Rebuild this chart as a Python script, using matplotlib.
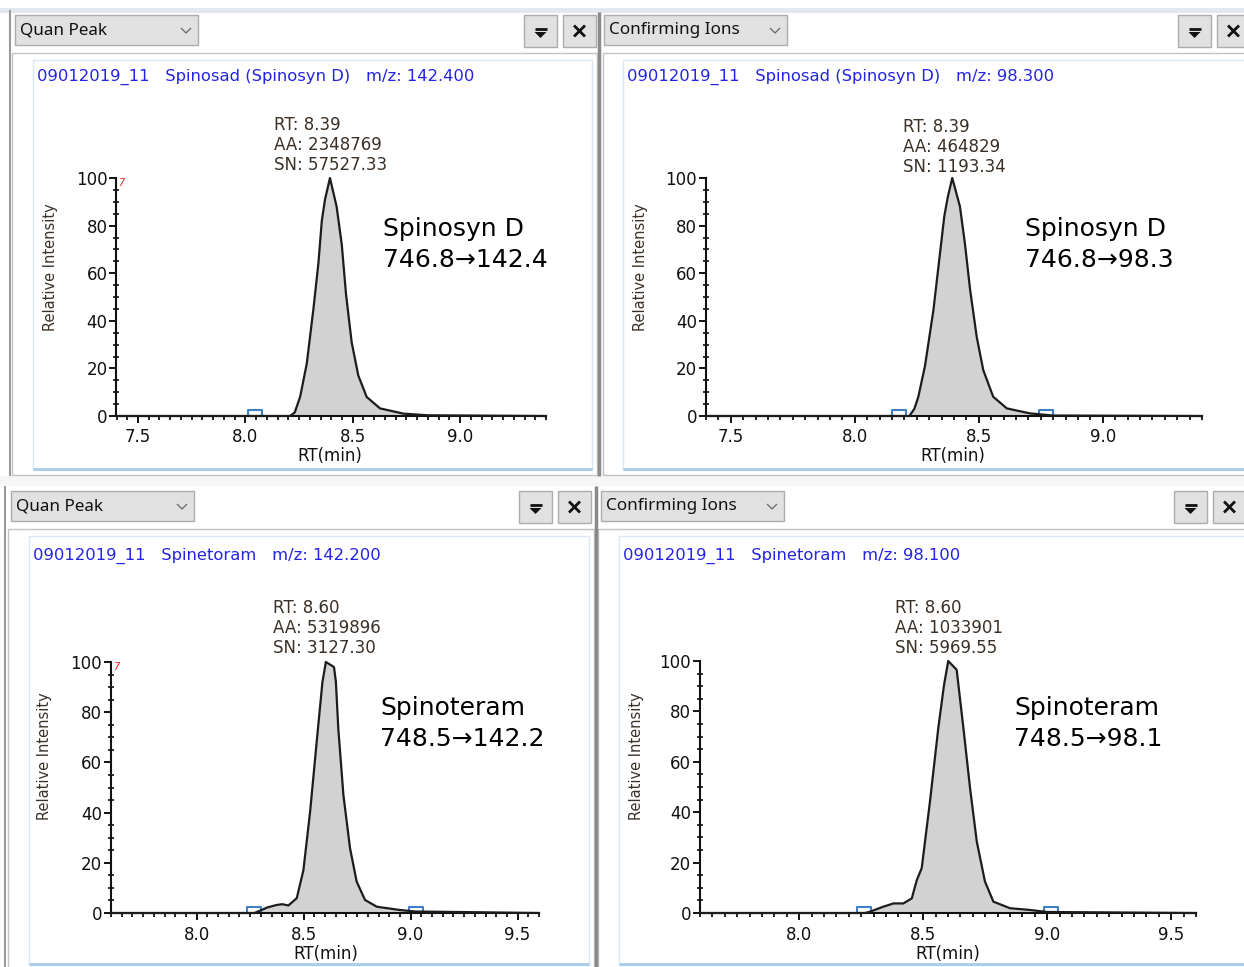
import matplotlib
matplotlib.use("Agg")
import matplotlib.pyplot as plt
import matplotlib.ticker as mticker
from matplotlib.patches import Rectangle, Polygon
from matplotlib.lines import Line2D
from matplotlib.path import Path
from matplotlib.transforms import Affine2D

W, H = 1244, 967

# ---- chromatogram traces (RT in min, relative intensity in %) ----
spd142_rt = [7.40, 8.208, 8.23, 8.255, 8.286, 8.317, 8.340, 8.356, 8.371, 8.394, 8.425,
             8.449, 8.469, 8.495, 8.526, 8.565, 8.627, 8.736, 8.85, 9.40]
spd142_int = [0, 0, 1.5, 8, 22, 45, 64, 82, 91, 100, 88, 72, 51, 31, 17, 8, 3.2, 1.0, 0.3, 0]

spd98_rt = [7.40, 8.22, 8.24, 8.256, 8.283, 8.317, 8.342, 8.361, 8.375, 8.393, 8.424,
            8.444, 8.465, 8.492, 8.518, 8.558, 8.613, 8.706, 8.80, 9.40]
spd98_int = [0, 0, 3, 8, 21, 44.5, 67, 84, 92, 100, 88, 72.5, 53, 33, 19.3, 8.1, 3.2, 1.1, 0.2, 0]

spt142_rt = [7.60, 8.27, 8.296, 8.33, 8.374, 8.40, 8.429, 8.468, 8.499, 8.530, 8.561, 8.588,
             8.604, 8.642, 8.651, 8.662, 8.686, 8.717, 8.748, 8.787, 8.842, 8.95, 9.02, 9.60]
spt142_int = [0, 0, 0.9, 2.2, 3.2, 3.5, 3.0, 5.9, 17, 40, 68, 92, 100, 98, 92, 73.6, 47,
              25.8, 12.5, 5.2, 2.5, 1.2, 0.6, 0]

spt98_rt = [7.60, 8.265, 8.285, 8.339, 8.38, 8.42, 8.454, 8.474, 8.494, 8.527, 8.561, 8.584,
            8.601, 8.635, 8.662, 8.689, 8.716, 8.749, 8.783, 8.85, 8.931, 9.0, 9.60]
spt98_int = [0, 0, 0.5, 2.5, 3.8, 3.8, 5.8, 13, 17.8, 44, 73.5, 90.5, 100, 96.5, 73.5, 49.5,
             28.4, 12.5, 4.5, 1.9, 1.2, 0.4, 0]

# integration boundaries (blue boxes on the baseline)
spd142_bounds = [8.045]
spd98_bounds = [8.18, 8.77]
spt142_bounds = [8.27, 9.025]
spt98_bounds = [8.26, 9.015]

views = ["Quan Peak", "Confirming Ions", "Quan Peak", "Confirming Ions"]
titles = ["09012019_11   Spinosad (Spinosyn D)   m/z: 142.400",
          "09012019_11   Spinosad (Spinosyn D)   m/z: 98.300",
          "09012019_11   Spinetoram   m/z: 142.200",
          "09012019_11   Spinetoram   m/z: 98.100"]
peak_rt = ["8.39", "8.39", "8.60", "8.60"]
peak_aa = ["2348769", "464829", "5319896", "1033901"]
peak_sn = ["57527.33", "1193.34", "3127.30", "5969.55"]
compounds = ["Spinosyn D", "Spinosyn D", "Spinoteram", "Spinoteram"]
transitions = ["746.8\u2192142.4", "746.8\u219298.3", "748.5\u2192142.2", "748.5\u219298.1"]
xlims = [(7.4, 9.4), (7.4, 9.4), (7.6, 9.6), (7.6, 9.6)]

traces = [(spd142_rt, spd142_int, spd142_bounds), (spd98_rt, spd98_int, spd98_bounds),
          (spt142_rt, spt142_int, spt142_bounds), (spt98_rt, spt98_int, spt98_bounds)]

# ---- screen layout in pixels ----
layout = [
    dict(dd=(15, 15), btn=524, body=(12, 53, 597, 475), inner=(33, 60, 592, 470),
         ax=(116.5, 546, 416, 178), title=(37, 77), ann=(274, 125), lab=(383, 229),
         ylab=(50, 267), xlab=(330, 456), red=True),
    dict(dd=(604, 15), btn=1178, body=(603, 53, 1250, 475), inner=(623, 60, 1250, 470),
         ax=(706, 1202, 416, 178), title=(627, 77), ann=(903, 127), lab=(1025, 229),
         ylab=(640, 267), xlab=(953, 456), red=False),
    dict(dd=(11, 491), btn=519, body=(8, 529, 594, 975), inner=(29, 536, 589, 965),
         ax=(111, 539, 913, 662), title=(33, 556), ann=(273, 608), lab=(380, 708),
         ylab=(45, 756), xlab=(326, 954), red=True),
    dict(dd=(601, 491), btn=1174, body=(598, 529, 1250, 975), inner=(619, 536, 1250, 965),
         ax=(700, 1196, 913, 661), title=(623, 556), ann=(895, 608), lab=(1014, 708),
         ylab=(636, 756), xlab=(948, 954), red=False),
]

plt.rcParams["font.family"] = "DejaVu Sans"

# open box sitting on the baseline (wider than tall)
bound_marker = Path([(-1, 0), (-1, 0.8), (1, 0.8), (1, 0)])

fig = plt.figure(figsize=(W / 100, H / 100), dpi=100)
fig.patch.set_facecolor("white")
pix = Affine2D().scale(1 / W, -1 / H).translate(0, 1) + fig.transFigure


def rect(x0, y0, x1, y1, fc="none", ec="none", lw=1.0):
    fig.add_artist(Rectangle((x0, y0), x1 - x0, y1 - y0, transform=pix,
                             facecolor=fc, edgecolor=ec, linewidth=lw, zorder=-10))


def line(xs, ys, color, lw=1.0):
    fig.add_artist(Line2D(xs, ys, transform=pix, color=color, linewidth=lw,
                          solid_capstyle="butt", zorder=-9))


def text(x, y, s, **kw):
    fig.text(x / W, 1 - y / H, s, **kw)


# window chrome
rect(0, 8, W, 13, fc="#e2e8f0")
line([10, 10], [10, 476], "#9a9a9a", 1.5)
line([5, 5], [486, H], "#9a9a9a", 1.5)
line([599, 599], [12, 476], "#8a8a8a", 2.5)
line([596, 596], [486, H], "#8a8a8a", 2.5)
rect(0, 476, W, 486, fc="#f4f6f8")

for i, lay in enumerate(layout):
    bx0, by0, bx1, by1 = lay["body"]
    rect(bx0, by0, bx1, by1, fc="white", ec="#c3c3c3")
    ix0, iy0, ix1, iy1 = lay["inner"]
    rect(ix0, iy0, ix1, iy1, fc="white", ec="#dbe7f3")
    line([ix0, ix1], [iy1 - 1, iy1 - 1], "#a8cce9", 2)

    # dropdown
    dx, dy = lay["dd"]
    rect(dx, dy, dx + 183, dy + 30, fc="#e1e1e1", ec="#adadad")
    text(dx + 5, dy + 15.5, views[i], family="Noto Sans", fontsize=12.3,
         color="#111111", va="center", ha="left")
    line([dx + 166, dx + 171, dx + 176], [dy + 13, dy + 18, dy + 13], "#666666", 0.9)

    # filter + close buttons
    b = lay["btn"]
    rect(b, dy, b + 33, dy + 32, fc="#e1e1e1", ec="#adadad")
    line([b + 10.5, b + 22.5], [dy + 13.5, dy + 13.5], "#111111", 2)
    fig.add_artist(Polygon([[b + 10.5, dy + 17], [b + 22.5, dy + 17], [b + 16.5, dy + 23]],
                           closed=True, transform=pix, facecolor="#111111",
                           edgecolor="none", zorder=-8))
    c = b + 39
    rect(c, dy, c + 33, dy + 32, fc="#e1e1e1", ec="#adadad")
    line([c + 11, c + 22], [dy + 10.5, dy + 21.5], "#111111", 2.0)
    line([c + 11, c + 22], [dy + 21.5, dy + 10.5], "#111111", 2.0)

    # blue header line
    tx, ty = lay["title"]
    text(tx, ty, titles[i], fontsize=11.8, color="#2323e6", va="center", ha="left")

    # chromatogram axes
    rt, inten, bounds = traces[i]
    x0, x1, y0, y1 = lay["ax"]
    ax = fig.add_axes([x0 / W, 1 - y0 / H, (x1 - x0) / W, (y0 - y1) / H])
    ax.set_facecolor("none")
    ax.set_xlim(*xlims[i])
    ax.set_ylim(0, 100)
    ax.fill_between(rt, inten, 0, color="#d2d2d2", linewidth=0, zorder=1)
    ax.plot(rt, inten, color="#1c1c1c", linewidth=1.6, clip_on=False, zorder=3)
    ax.plot(bounds, [0] * len(bounds), linestyle="none", marker=bound_marker,
            markersize=10, markerfacecolor="none", markeredgecolor="#3f7fc6",
            markeredgewidth=1.5, clip_on=False, zorder=2)

    for side in ("top", "right"):
        ax.spines[side].set_visible(False)
    for side in ("left", "bottom"):
        ax.spines[side].set_linewidth(1.5)
        ax.spines[side].set_color("#111111")
        ax.spines[side].set_zorder(2.5)

    ax.xaxis.set_major_locator(mticker.MultipleLocator(0.5))
    ax.xaxis.set_minor_locator(mticker.MultipleLocator(0.05))
    ax.xaxis.set_major_formatter(mticker.FormatStrFormatter("%.1f"))
    ax.yaxis.set_major_locator(mticker.MultipleLocator(20))
    ax.yaxis.set_minor_locator(mticker.MultipleLocator(5))
    ax.tick_params(axis="x", which="major", direction="out", length=5, width=1.4,
                   pad=4, labelsize=12, colors="#111111")
    ax.tick_params(axis="x", which="minor", direction="out", length=3, width=1.3,
                   colors="#111111")
    ax.tick_params(axis="y", which="major", direction="out", length=5, width=1.4,
                   pad=1.5, labelsize=12, colors="#111111")
    ax.tick_params(axis="y", which="minor", direction="inout", length=4, width=1.2,
                   colors="#111111")

    lx, ly = lay["ylab"]
    text(lx, ly, "Relative Intensity", rotation=90, fontsize=10.5, color="#3a3026",
         ha="center", va="center")
    xx, xy = lay["xlab"]
    text(xx, xy, "RT(min)", fontsize=12, color="#111111", ha="center", va="center")

    # peak annotation
    ax_, ay_ = lay["ann"]
    for k, s in enumerate([f"RT: {peak_rt[i]}", f"AA: {peak_aa[i]}", f"SN: {peak_sn[i]}"]):
        text(ax_, ay_ + 20 * k, s, fontsize=12, color="#3a3026", ha="left", va="center")

    # compound / transition label
    cx, cy = lay["lab"]
    text(cx, cy, compounds[i], fontsize=18, color="black", ha="left", va="center")
    text(cx, cy + 31, transitions[i], fontsize=18, color="black", ha="left", va="center")

    if lay["red"]:
        text(x0 + 2, y1 + 5, "7", fontsize=7, color="#e02020", ha="left", va="center",
             style="italic")

fig.savefig("out.png", dpi=100, facecolor=fig.get_facecolor())
